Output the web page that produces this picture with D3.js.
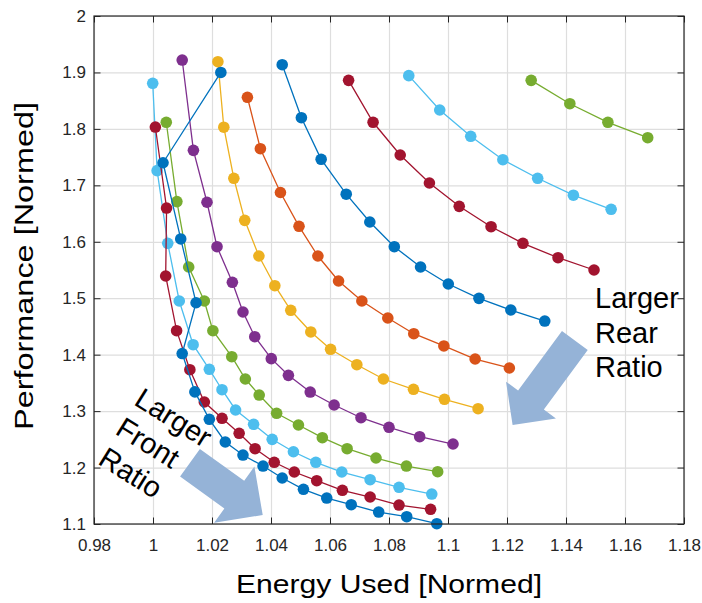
<!DOCTYPE html>
<html>
<head>
<meta charset="utf-8">
<script src="https://cdn.jsdelivr.net/npm/d3@7"></script>
<style>
  html, body { margin: 0; padding: 0; background: #fff; }
  svg { display: block; }
  text { font-family: "Liberation Sans", Arial, Helvetica, sans-serif; }
</style>
</head>
<body>
<svg id="chart" width="702" height="603"></svg>
<script>
// Axis ticks and labels
const xTicks = [0.98, 1.00, 1.02, 1.04, 1.06, 1.08, 1.10, 1.12, 1.14, 1.16, 1.18];
const xTickLabels = ["0.98", "1", "1.02", "1.04", "1.06", "1.08", "1.1", "1.12", "1.14", "1.16", "1.18"];
const yTicks = [1.1, 1.2, 1.3, 1.4, 1.5, 1.6, 1.7, 1.8, 1.9, 2.0];
const yTickLabels = ["1.1", "1.2", "1.3", "1.4", "1.5", "1.6", "1.7", "1.8", "1.9", "2"];

// Sweep curves: energy used (x) vs performance (y), both normalised
const greenHighX = [1.1282, 1.1413, 1.1542, 1.1677];
const greenHighY = [1.886, 1.8446, 1.8117, 1.7844];

const lightBlueHighX = [1.0867, 1.0972, 1.1077, 1.1186, 1.1304, 1.1425, 1.1553];
const lightBlueHighY = [1.8943, 1.8335, 1.7869, 1.7454, 1.7125, 1.6825, 1.6575];

const darkRedHighX = [1.0663, 1.0746, 1.0838, 1.0937, 1.1038, 1.1146, 1.1254, 1.1373, 1.1495];
const darkRedHighY = [1.886, 1.8117, 1.7537, 1.7041, 1.6628, 1.6267, 1.5973, 1.5718, 1.55];

const blueHighX = [1.0438, 1.0503, 1.057, 1.0655, 1.0735, 1.0818, 1.0907, 1.1001, 1.1105, 1.1213, 1.1328];
const blueHighY = [1.9137, 1.8198, 1.7461, 1.6843, 1.635, 1.5913, 1.5553, 1.5252, 1.4998, 1.4791, 1.4596];

const orangeX = [1.032, 1.0364, 1.0432, 1.0495, 1.0559, 1.0629, 1.0708, 1.0796, 1.0884, 1.0986, 1.1092, 1.1208];
const orangeY = [1.856, 1.7649, 1.6873, 1.6274, 1.5748, 1.5305, 1.4951, 1.465, 1.4371, 1.4154, 1.3923, 1.3764];

const yellowX = [1.022, 1.024, 1.0274, 1.0311, 1.0359, 1.0413, 1.0467, 1.0535, 1.0602, 1.0691, 1.0781, 1.0883, 1.0988, 1.1102];
const yellowY = [1.919, 1.803, 1.7125, 1.638, 1.5748, 1.5222, 1.4786, 1.4402, 1.4095, 1.3822, 1.3569, 1.3386, 1.3209, 1.3043];

const purpleX = [1.0099, 1.0137, 1.0183, 1.0217, 1.0269, 1.0305, 1.0345, 1.0401, 1.0459, 1.0533, 1.0614, 1.0705, 1.08, 1.0904, 1.1017];
const purpleY = [1.922, 1.762, 1.670, 1.5913, 1.5282, 1.4756, 1.4318, 1.3929, 1.3634, 1.3338, 1.3108, 1.2883, 1.2713, 1.2547, 1.2417];

const greenLowX = [1.0045, 1.0081, 1.0121, 1.0174, 1.0203, 1.0267, 1.0313, 1.036, 1.0419, 1.0493, 1.0574, 1.0658, 1.0756, 1.0859, 1.0965];
const greenLowY = [1.8117, 1.6712, 1.5553, 1.4951, 1.4425, 1.3964, 1.3569, 1.3285, 1.2961, 1.2754, 1.2529, 1.2334, 1.2169, 1.2027, 1.1927];

const lightBlueLowX = [0.9999, 1.0014, 1.005, 1.0089, 1.0136, 1.0191, 1.0234, 1.028, 1.0341, 1.0404, 1.0476, 1.0552, 1.064, 1.0736, 1.0834, 1.0945];
const lightBlueLowY = [1.8808, 1.726, 1.5973, 1.4951, 1.4177, 1.3741, 1.3379, 1.302, 1.2766, 1.25, 1.228, 1.2093, 1.1921, 1.1785, 1.165, 1.1531];

const darkRedLowX = [1.0008, 1.0046, 1.0043, 1.008, 1.0125, 1.0174, 1.0234, 1.0292, 1.0346, 1.0411, 1.0479, 1.0555, 1.0642, 1.0736, 1.0834, 1.0941];
const darkRedLowY = [1.8033, 1.6598, 1.5394, 1.4425, 1.3734, 1.3161, 1.2873, 1.2607, 1.2334, 1.2093, 1.1921, 1.1767, 1.1597, 1.1478, 1.1336, 1.126];

const blueLowX = [1.023, 1.0034, 1.0094, 1.0146, 1.0099, 1.0142, 1.0191, 1.0245, 1.0305, 1.0373, 1.0438, 1.051, 1.0589, 1.0672, 1.0765, 1.086, 1.0962];
const blueLowY = [1.900, 1.740, 1.605, 1.492, 1.402, 1.334, 1.2855, 1.2453, 1.2222, 1.2027, 1.1815, 1.1615, 1.146, 1.1342, 1.1212, 1.1129, 1.1005];

// Series in drawing order with their colours
const series = [
  { x: greenHighX,     y: greenHighY,     color: "#77AC30" },
  { x: lightBlueHighX, y: lightBlueHighY, color: "#4DBEEE" },
  { x: darkRedHighX,   y: darkRedHighY,   color: "#A2142F" },
  { x: blueHighX,      y: blueHighY,      color: "#0072BD" },
  { x: orangeX,        y: orangeY,        color: "#D95319" },
  { x: yellowX,        y: yellowY,        color: "#EDB120" },
  { x: purpleX,        y: purpleY,        color: "#7E2F8E" },
  { x: greenLowX,      y: greenLowY,      color: "#77AC30" },
  { x: lightBlueLowX,  y: lightBlueLowY,  color: "#4DBEEE" },
  { x: darkRedLowX,    y: darkRedLowY,    color: "#A2142F" },
  { x: blueLowX,       y: blueLowY,       color: "#0072BD" }
];

// Annotation arrows (tail -> tip, data units)
const rearArrow  = { tail: [1.1430, 1.4251], tip: [1.1219, 1.2754], shaft: 32, head: 62, headLen: 31 };
const frontArrow = { tail: [1.01254, 1.2084], tip: [1.03719, 1.1159], shaft: 34, head: 69, headLen: 35 };

const svg = d3.select("#chart");
const plotL = 94, plotR = 684, plotT = 16, plotB = 524;
const x = d3.scaleLinear().domain([0.98, 1.18]).range([plotL, plotR]);
const y = d3.scaleLinear().domain([1.1, 2.0]).range([plotB, plotT]);
const axisColor = "#262626";
const tickFont = 17;

svg.append("rect").attr("width", 702).attr("height", 603).attr("fill", "#fff");

// Grid
const grid = svg.append("g");
grid.append("g").attr("transform", `translate(0,${plotB})`)
  .call(d3.axisBottom(x).tickValues(xTicks).tickSize(-(plotB - plotT)).tickFormat(""))
  .call(g => g.select(".domain").remove())
  .call(g => g.selectAll("line").attr("stroke", "#dedede").attr("stroke-width", 1.2));
grid.append("g").attr("transform", `translate(${plotL},0)`)
  .call(d3.axisLeft(y).tickValues(yTicks).tickSize(-(plotR - plotL)).tickFormat(""))
  .call(g => g.select(".domain").remove())
  .call(g => g.selectAll("line").attr("stroke", "#dedede").attr("stroke-width", 1.2));

// Data
const line = d3.line().x(d => x(d[0])).y(d => y(d[1]));
series.forEach(s => {
  const pts = s.x.map((v, i) => [v, s.y[i]]);
  const g = svg.append("g");
  g.append("path").datum(pts).attr("d", line)
    .attr("fill", "none").attr("stroke", s.color).attr("stroke-width", 1.3);
  g.selectAll("circle").data(pts).join("circle")
    .attr("cx", d => x(d[0])).attr("cy", d => y(d[1])).attr("r", 5.8)
    .attr("fill", s.color);
});

// Axes (ticks inward, box all round)
const xLabel = d => xTickLabels[xTicks.indexOf(d)];
const yLabel = d => yTickLabels[yTicks.indexOf(d)];
function styleAxis(g) {
  g.select(".domain").remove();
  g.selectAll("line").attr("stroke", axisColor).attr("stroke-width", 1);
  g.selectAll("text").attr("fill", axisColor).style("font-size", tickFont + "px");
}
svg.append("g").attr("transform", `translate(0,${plotB})`)
  .call(d3.axisBottom(x).tickValues(xTicks).tickSizeInner(-6.5).tickSizeOuter(0).tickPadding(15).tickFormat(xLabel))
  .call(styleAxis);
svg.append("g").attr("transform", `translate(0,${plotT})`)
  .call(d3.axisTop(x).tickValues(xTicks).tickSizeInner(-6.5).tickSizeOuter(0).tickFormat(""))
  .call(styleAxis);
svg.append("g").attr("transform", `translate(${plotL},0)`)
  .call(d3.axisLeft(y).tickValues(yTicks).tickSizeInner(-6.5).tickSizeOuter(0).tickPadding(8).tickFormat(yLabel))
  .call(styleAxis);
svg.append("g").attr("transform", `translate(${plotR},0)`)
  .call(d3.axisRight(y).tickValues(yTicks).tickSizeInner(-6.5).tickSizeOuter(0).tickFormat(""))
  .call(styleAxis);
svg.append("rect").attr("x", plotL).attr("y", plotT)
  .attr("width", plotR - plotL).attr("height", plotB - plotT)
  .attr("fill", "none").attr("stroke", axisColor).attr("stroke-width", 1.2);

// Axis titles
svg.append("text").attr("x", (plotL + plotR) / 2).attr("y", 593)
  .attr("text-anchor", "middle").style("font-size", "26px").attr("fill", "#000")
  .attr("textLength", 306).attr("lengthAdjust", "spacingAndGlyphs")
  .text("Energy Used [Normed]");
svg.append("text").attr("transform", "translate(33,266) rotate(-90)")
  .attr("text-anchor", "middle").style("font-size", "26px").attr("fill", "#000")
  .attr("textLength", 328).attr("lengthAdjust", "spacingAndGlyphs")
  .text("Performance [Normed]");

// Block arrows
function arrowPath(a) {
  const t = [x(a.tail[0]), y(a.tail[1])], p = [x(a.tip[0]), y(a.tip[1])];
  const dx = p[0] - t[0], dy = p[1] - t[1], len = Math.hypot(dx, dy);
  const u = [dx / len, dy / len], n = [-u[1], u[0]];
  const b = [p[0] - u[0] * a.headLen, p[1] - u[1] * a.headLen];
  const off = (q, w) => [q[0] + n[0] * w, q[1] + n[1] * w];
  const pts = [off(t, a.shaft / 2), off(b, a.shaft / 2), off(b, a.head / 2), p,
               off(b, -a.head / 2), off(b, -a.shaft / 2), off(t, -a.shaft / 2)];
  return "M" + pts.map(q => q.join(",")).join("L") + "Z";
}
[rearArrow, frontArrow].forEach(a => {
  svg.append("path").attr("d", arrowPath(a)).attr("fill", "#95B3D7");
});

// Annotation text
const rear = svg.append("text").style("font-size", "29px").attr("fill", "#000");
[["Larger", 308.3], ["Rear", 342.7], ["Ratio", 376.7]].forEach(([s, yy]) => {
  rear.append("tspan").attr("x", 595).attr("y", yy).text(s);
});
[["Larger", 132.7, 404], ["Front", 114, 433.3], ["Ratio", 96.7, 463.3]].forEach(([s, xx, yy]) => {
  svg.append("text").attr("transform", `translate(${xx},${yy}) rotate(32)`)
    .style("font-size", "29px").attr("fill", "#000").text(s);
});
</script>
</body>
</html>
